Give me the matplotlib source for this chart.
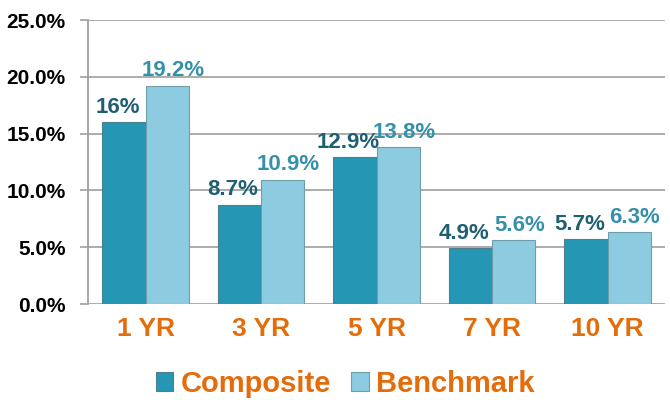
import matplotlib.pyplot as plt
import numpy as np

plt.rcParams['font.family'] = ['Liberation Sans', 'DejaVu Sans']

categories = ["1 YR", "3 YR", "5 YR", "7 YR", "10 YR"]
composite = [16, 8.7, 12.9, 4.9, 5.7]
benchmark = [19.2, 10.9, 13.8, 5.6, 6.3]
composite_labels = ["16%", "8.7%", "12.9%", "4.9%", "5.7%"]
benchmark_labels = ["19.2%", "10.9%", "13.8%", "5.6%", "6.3%"]
yticks = [0, 5, 10, 15, 20, 25]

c_comp = "#2596b3"
c_bench = "#8dcbe0"
orange = "#e46c0a"

fig = plt.figure(figsize=(6.7, 4.0), dpi=100)
ax = fig.add_axes([0.131, 0.24, 0.862, 0.71])

x = np.arange(len(categories))
w = 0.375
b1 = ax.bar(x - w / 2, composite, w, color=c_comp, edgecolor="#4d7f8c", linewidth=0.8, zorder=3)
b2 = ax.bar(x + w / 2, benchmark, w, color=c_bench, edgecolor="#6f9dab", linewidth=0.8, zorder=3)

# labels nudged sideways a little so neighbours don't collide
for rect, lab in zip(b1, composite_labels):
    ax.annotate(lab, (rect.get_x() + rect.get_width() / 2, rect.get_height()),
                xytext=(-4.5, 7), textcoords="offset points", ha="center", va="baseline",
                fontsize=16, fontweight="bold", color="#1f5f72", zorder=4)
for rect, lab in zip(b2, benchmark_labels):
    ax.annotate(lab, (rect.get_x() + rect.get_width() / 2, rect.get_height()),
                xytext=(4, 7), textcoords="offset points", ha="center", va="baseline",
                fontsize=16, fontweight="bold", color="#3590aa", zorder=4)

ax.set_xlim(-0.5, len(categories) - 0.5)
ax.set_ylim(0, 25)
ax.set_yticks(yticks)
ax.set_yticklabels(["%.1f%%" % v for v in yticks], fontsize=15, fontweight="bold")
ax.set_xticks(x)
ax.set_xticklabels(categories, fontsize=19, fontweight="bold", color=orange)
ax.tick_params(axis="x", length=0, pad=9)
ax.tick_params(axis="y", length=6, width=1.2, color="#a0a0a0", pad=10)
ax.yaxis.grid(True, color="#a6a6a6", linewidth=1.3, zorder=0)
for s in ["top", "right", "bottom"]:
    ax.spines[s].set_visible(False)
ax.spines["left"].set_color("#a0a0a0")
ax.spines["left"].set_linewidth(1.3)

leg = fig.legend([b1, b2], ["Composite", "Benchmark"], loc="center", bbox_to_anchor=(0.515, 0.04),
                 ncol=2, frameon=False, handlelength=0.6, handleheight=0.6, handletextpad=0.25,
                 columnspacing=0.7, prop={"size": 21, "weight": "bold"})
for t in leg.get_texts():
    t.set_color(orange)

fig.savefig("out.png", dpi=100)
